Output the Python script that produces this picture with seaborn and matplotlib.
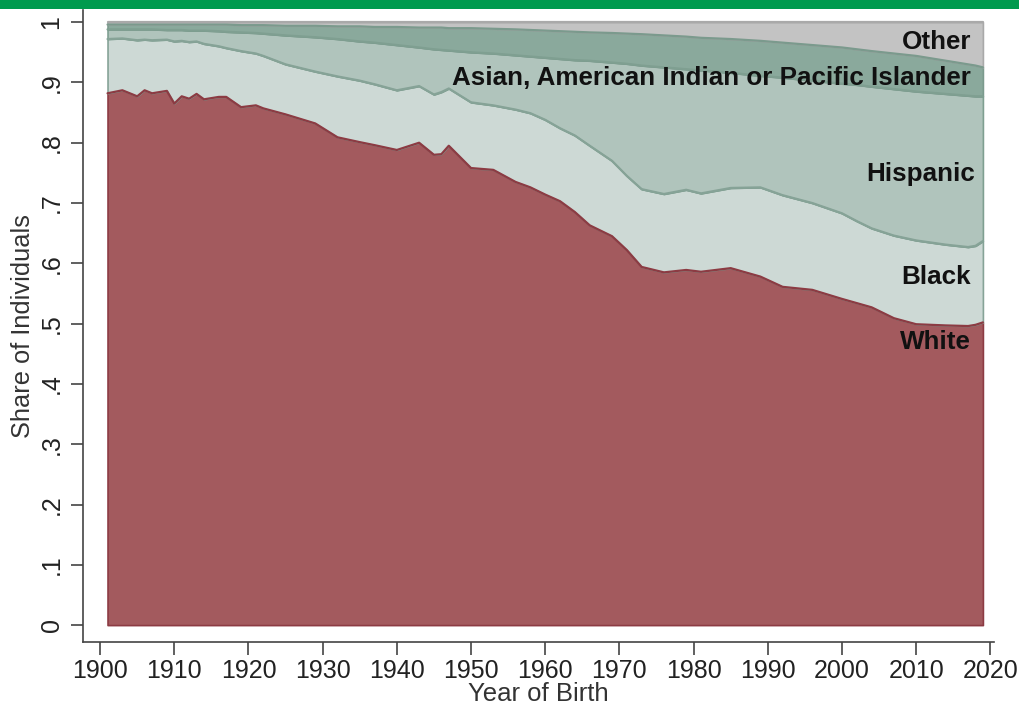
import numpy as np
import pandas as pd
import matplotlib.pyplot as plt
import matplotlib.patches as mpatches
import seaborn as sns

# Años de nacimiento
years = [1901, 1903, 1905, 1906, 1907, 1909, 1910, 1911, 1912, 1913, 1914, 1916,
         1917, 1919, 1921, 1922, 1925, 1929, 1932, 1935, 1937, 1940, 1943, 1945,
         1946, 1947, 1950, 1953, 1956, 1958, 1960, 1962, 1964, 1966, 1969, 1971,
         1973, 1976, 1979, 1981, 1985, 1989, 1992, 1996, 2000, 2002, 2004, 2007,
         2010, 2014, 2017, 2018, 2019]

# Participación de cada grupo
white = [.882, .887, .877, .887, .882, .886, .865, .877, .873, .881, .872, .876,
         .876, .859, .862, .857, .847, .832, .809, .801, .796, .788, .800, .780,
         .781, .795, .758, .755, .735, .726, .714, .703, .685, .663, .645, .622,
         .594, .585, .589, .586, .592, .578, .561, .556, .541, .534, .527, .509,
         .499, .497, .496, .498, .502]
black = [.090, .086, .093, .084, .088, .085, .103, .092, .094, .087, .092, .084,
         .081, .093, .086, .087, .083, .086, .101, .102, .101, .099, .094, .100,
         .103, .095, .109, .107, .120, .123, .124, .121, .127, .132, .125, .123,
         .129, .130, .133, .130, .133, .148, .152, .144, .142, .136, .131, .137,
         .139, .134, .131, .131, .135]
hispanic = [.016, .015, .018, .017, .018, .016, .019, .018, .019, .018, .022, .025,
            .027, .031, .034, .037, .048, .057, .062, .065, .069, .075, .064, .075,
            .070, .063, .083, .086, .090, .094, .103, .115, .125, .141, .163, .186,
            .205, .210, .200, .204, .191, .185, .195, .203, .215, .226, .235, .243,
            .247, .250, .251, .248, .240]
asian = [.008, .008, .008, .008, .008, .009, .009, .009, .010, .010, .010, .011,
         .012, .012, .013, .014, .016, .019, .021, .025, .026, .030, .033, .036,
         .037, .037, .040, .041, .043, .044, .045, .046, .047, .047, .049, .050,
         .052, .053, .054, .054, .056, .058, .058, .059, .060, .059, .059, .059,
         .059, .055, .052, .051, .048]
other = [.004, .004, .004, .004, .004, .004, .004, .004, .004, .004, .004, .004,
         .004, .005, .005, .005, .006, .006, .007, .007, .008, .008, .009, .009,
         .009, .010, .010, .011, .012, .013, .014, .015, .016, .017, .018, .019,
         .020, .022, .024, .026, .028, .031, .034, .038, .042, .045, .048, .052,
         .056, .064, .070, .072, .075]

groups = ["White", "Black", "Hispanic", "Asian, American Indian or Pacific Islander", "Other"]
fills = ["#a35a5e", "#cdd9d5", "#b0c4bc", "#8aa99c", "#c3c3c3"]
edges = ["#8c3b43", "#86a397", "#7f9f91", "#7b9a8d", "#a9a9a9"]

df = pd.DataFrame({"Año": years, "White": white, "Black": black,
                   "Hispanic": hispanic, groups[3]: asian, "Other": other})

sns.set_style("ticks")
plt.rcParams["font.family"] = ["Liberation Sans", "DejaVu Sans"]

fig = plt.figure(figsize=(10.19, 7.10), dpi=100)
ax = fig.add_axes([0.0815, 0.0958, 0.894, 0.890])

lower = np.zeros(len(years))
for g, fc, ec in zip(groups, fills, edges):
    upper = lower + df[g].values
    ax.fill_between(df["Año"], lower, upper, facecolor=fc, edgecolor=ec, linewidth=1.2)
    sns.lineplot(x=df["Año"], y=upper, ax=ax, color=ec, linewidth=1.6)
    lower = upper

# Etiquetas de los grupos
label_pos = {"Other": (2017.4, 0.967), groups[3]: (2017.4, 0.908),
             "Hispanic": (2017.9, 0.748), "Black": (2017.4, 0.577),
             "White": (2017.4, 0.469)}
for g, (x, y) in label_pos.items():
    ax.text(x, y, g, ha="right", va="center", fontsize=18.7, fontweight="bold", color="#111111")

ax.set_xlim(1897.7, 2020.5)
ax.set_ylim(-0.028, 1.02)
ax.set_xticks(range(1900, 2021, 10))
ax.set_yticks(np.arange(0, 1.01, 0.1))
ax.set_yticklabels(["0", ".1", ".2", ".3", ".4", ".5", ".6", ".7", ".8", ".9", "1"],
                   rotation=90, va="center")
ax.tick_params(axis="both", labelsize=18, length=9, width=1.2, color="#444444",
               labelcolor="#222222")
ax.tick_params(axis="y", pad=5)
ax.set_xlabel("Year of Birth", fontsize=18.5, color="#333333", labelpad=-1)
ax.set_ylabel("Share of Individuals", fontsize=18.3, color="#333333", labelpad=3)
for s in ["top", "right"]:
    ax.spines[s].set_visible(False)
for s in ["left", "bottom"]:
    ax.spines[s].set_color("#444444")
    ax.spines[s].set_linewidth(1.2)

# Banda verde superior
fig.patches.append(mpatches.Rectangle((0, 1 - 9 / 710), 1, 9 / 710, transform=fig.transFigure,
                                      facecolor="#009a4e", edgecolor="none", zorder=10))

plt.savefig("out.png", dpi=100)
